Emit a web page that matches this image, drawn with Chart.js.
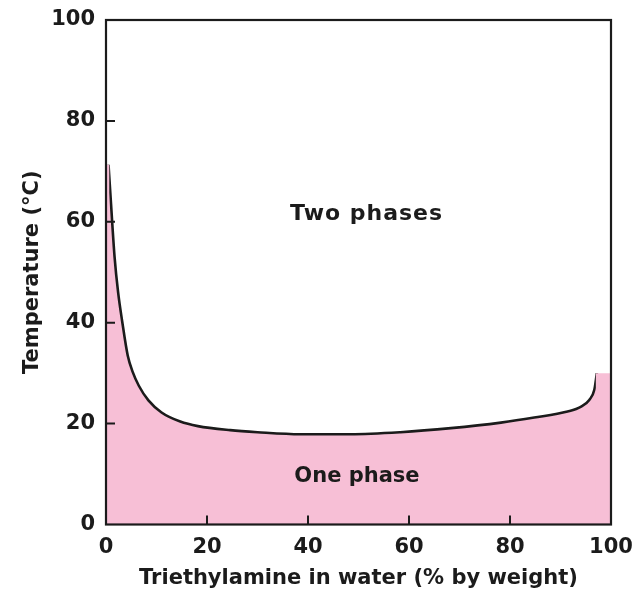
<!DOCTYPE html>
<html>
<head>
<meta charset="utf-8">
<title>Triethylamine - water miscibility</title>
<script src="https://cdn.jsdelivr.net/npm/chart.js@4"></script>
<style>
  html, body { margin: 0; padding: 0; background: #fff; }
  #wrap { width: 633px; height: 599px; }
</style>
</head>
<body>
<div id="wrap"><canvas id="chart"></canvas></div>

<script>
// coexistence curve: % triethylamine by weight vs temperature
const compositionPct = [0.5, 1.0, 1.7, 2.4, 3.2, 4.3, 5.3, 6.5, 8.4, 11.0, 14.7, 18.2, 24.6, 30.0, 38.5, 48.4, 58.3, 68.3, 78.2, 84.8, 91.4, 94.0, 95.7, 96.7, 97.2];
const temperatureC   = [71.3, 63.5, 53.0, 46.0, 40.3, 33.5, 30.2, 27.5, 24.6, 22.2, 20.4, 19.5, 18.7, 18.3, 17.9, 17.9, 18.3, 19.1, 20.2, 21.2, 22.4, 23.3, 24.7, 26.7, 30.0];

// pink strips that close the one-phase area at both ends
const leftStripPct  = [0, 0.7];
const leftStripT    = [71.3, 71.3];
const rightStripPct = [96.95, 100];
const rightStripT   = [30, 30];

const axisTicks = [0, 20, 40, 60, 80, 100];

const regionLabels = ["Two phases", "One phase"];
const regionLabelPct = [51.6, 49.7];
const regionLabelT   = [61.5, 9.6];

const pink = "#f7bfd6";
const ink = "#1b1b1b";
const fontFamily = "'DejaVu Sans', sans-serif";

const toPoints = (xs, ys) => xs.map((x, i) => ({ x: x, y: ys[i] }));

// ticks pointing into the plot, frame and the phase labels
const decorPlugin = {
  id: "decor",
  afterDatasetsDraw(chart) {
    const { ctx, chartArea: a, scales: { x, y } } = chart;
    ctx.save();
    ctx.strokeStyle = ink;
    ctx.lineWidth = 2;
    ctx.beginPath();
    axisTicks.slice(1, -1).forEach(v => {
      const px = x.getPixelForValue(v);
      ctx.moveTo(px, a.bottom);
      ctx.lineTo(px, a.bottom - 9);
      const py = y.getPixelForValue(v);
      ctx.moveTo(a.left, py);
      ctx.lineTo(a.left + 9, py);
    });
    ctx.stroke();
    ctx.lineWidth = 2.2;
    ctx.strokeRect(a.left, a.top, a.right - a.left, a.bottom - a.top);

    ctx.fillStyle = ink;
    ctx.textAlign = "center";
    ctx.textBaseline = "middle";
    regionLabels.forEach((txt, i) => {
      // the upper label is set a little wider in the original
      ctx.font = (i === 0 ? "bold 22px " : "bold 21px ") + fontFamily;
      ctx.letterSpacing = i === 0 ? "1px" : "0px";
      ctx.fillText(txt, x.getPixelForValue(regionLabelPct[i]), y.getPixelForValue(regionLabelT[i]));
    });
    ctx.restore();
  }
};

new Chart(document.getElementById("chart"), {
  type: "line",
  data: {
    datasets: [
      {
        label: "left strip",
        data: toPoints(leftStripPct, leftStripT),
        borderWidth: 0,
        borderColor: "rgba(0,0,0,0)",
        backgroundColor: pink,
        fill: "origin",
        pointRadius: 0
      },
      {
        label: "right strip",
        data: toPoints(rightStripPct, rightStripT),
        borderWidth: 0,
        borderColor: "rgba(0,0,0,0)",
        backgroundColor: pink,
        fill: "origin",
        pointRadius: 0
      },
      {
        label: "coexistence curve",
        data: toPoints(compositionPct, temperatureC),
        borderColor: ink,
        borderWidth: 2.6,
        backgroundColor: pink,
        fill: "origin",
        pointRadius: 0,
        cubicInterpolationMode: "monotone"
      }
    ]
  },
  options: {
    responsive: true,
    maintainAspectRatio: false,
    animation: false,
    layout: { padding: { top: 20, right: 22, left: 0, bottom: 0 } },
    plugins: {
      legend: { display: false },
      tooltip: { enabled: false },
      filler: { drawTime: "beforeDatasetDraw" }
    },
    scales: {
      x: {
        type: "linear",
        min: 0,
        max: 100,
        afterBuildTicks: s => { s.ticks = axisTicks.map(v => ({ value: v })); },
        afterFit: s => { s.height = 74.5; s.paddingLeft = 0; s.paddingRight = 0; },
        grid: { display: false, drawTicks: false },
        border: { display: false },
        ticks: { color: ink, padding: 10, font: { family: fontFamily, size: 21, weight: "bold" } },
        title: {
          display: true,
          text: "Triethylamine in water (% by weight)",
          color: ink,
          padding: { top: 0, bottom: 8 },
          font: { family: fontFamily, size: 21, weight: "bold" }
        }
      },
      y: {
        min: 0,
        max: 100,
        afterBuildTicks: s => { s.ticks = axisTicks.map(v => ({ value: v })); },
        afterFit: s => { s.width = 106; s.paddingTop = 0; s.paddingBottom = 0; },
        grid: { display: false, drawTicks: false },
        border: { display: false },
        ticks: { color: ink, padding: 11, font: { family: fontFamily, size: 21, weight: "bold" } },
        title: {
          display: true,
          text: "Temperature (°C)",
          color: ink,
          padding: { top: 20, bottom: 0 },
          font: { family: fontFamily, size: 21, weight: "bold" }
        }
      }
    }
  },
  plugins: [decorPlugin]
});
</script>
</body>
</html>
